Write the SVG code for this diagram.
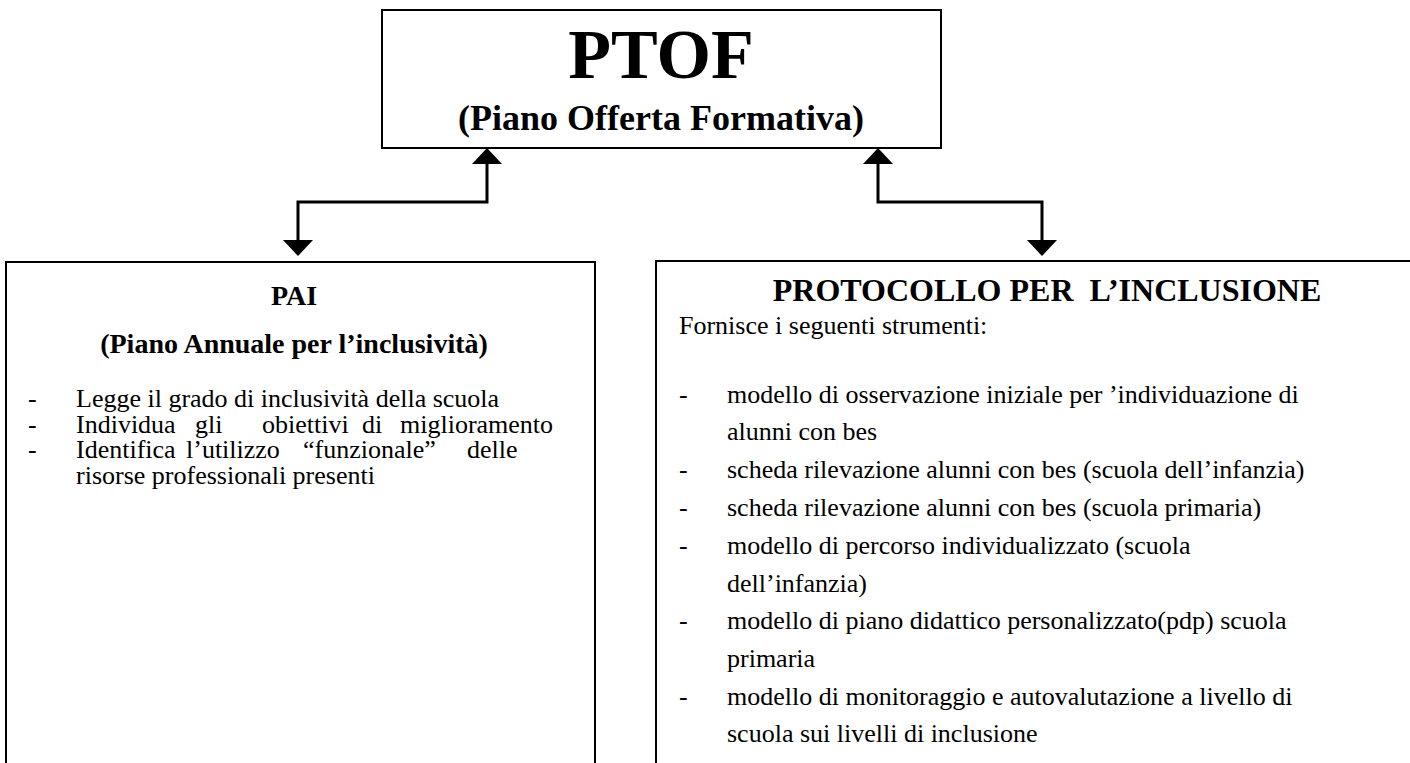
<svg xmlns="http://www.w3.org/2000/svg" width="1410" height="763" viewBox="0 0 1410 763">
<style>
.box{fill:#fff;stroke:#000;stroke-width:2}
.t{font-family:"Liberation Serif","Times New Roman",serif;fill:#000}
.b{font-weight:bold}
.body{font-size:26px}
.conn{fill:none;stroke:#000;stroke-width:3}
</style>
<defs>
<marker id="ah" markerUnits="userSpaceOnUse" markerWidth="16" markerHeight="30" viewBox="0 0 16 30" refX="0" refY="15" orient="auto-start-reverse">
<path d="M0,0 L16,15 L0,30 Z" fill="#000"/>
</marker>
</defs>
<rect width="1410" height="763" fill="#fff"/>
<g id="ptof">
<rect class="box" x="382" y="10" width="559" height="138"/>
<text class="t b" x="661" y="78" font-size="70" text-anchor="middle">PTOF</text>
<text class="t b" x="661" y="130" font-size="36" text-anchor="middle">(Piano Offerta Formativa)</text>
</g>
<g id="pai">
<rect class="box" x="6" y="262" width="589" height="520"/>
<text class="t b" x="294" y="305" font-size="28" text-anchor="middle">PAI</text>
<text class="t b" x="294" y="353" font-size="28" text-anchor="middle">(Piano Annuale per l’inclusività)</text>
<g class="t body">
<text x="28" y="407">-</text><text x="76" y="407">Legge il grado di inclusività della scuola</text>
<text x="28" y="433">-</text><text y="433"><tspan x="76">Individua</tspan><tspan x="195">gli</tspan><tspan x="262">obiettivi</tspan><tspan x="362">di</tspan><tspan x="400">miglioramento</tspan></text>
<text x="28" y="458">-</text><text y="458"><tspan x="76">Identifica</tspan><tspan x="186">l’utilizzo</tspan><tspan x="303">“funzionale”</tspan><tspan x="467">delle</tspan></text>
<text x="76" y="484">risorse professionali presenti</text>
</g>
</g>
<g id="protocollo">
<rect class="box" x="656" y="261" width="800" height="520"/>
<text class="t b" x="1047" y="301" font-size="32" text-anchor="middle" xml:space="preserve">PROTOCOLLO PER  L’INCLUSIONE</text>
<g class="t body">
<text x="679" y="334">Fornisce i seguenti strumenti:</text>
<text x="679" y="403">-</text><text x="727" y="403">modello di osservazione iniziale per ’individuazione di</text>
<text x="727" y="440">alunni con bes</text>
<text x="679" y="478">-</text><text x="727" y="478">scheda rilevazione alunni con bes (scuola dell’infanzia)</text>
<text x="679" y="516">-</text><text x="727" y="516">scheda rilevazione alunni con bes (scuola primaria)</text>
<text x="679" y="554">-</text><text x="727" y="554">modello di percorso individualizzato (scuola</text>
<text x="727" y="592">dell’infanzia)</text>
<text x="679" y="629">-</text><text x="727" y="629">modello di piano didattico personalizzato(pdp) scuola</text>
<text x="727" y="667">primaria</text>
<text x="679" y="705">-</text><text x="727" y="705">modello di monitoraggio e autovalutazione a livello di</text>
<text x="727" y="742">scuola sui livelli di inclusione</text>
</g>
</g>
<g id="connectors">
<path class="conn" d="M487,164 V202 H298 V240" marker-start="url(#ah)" marker-end="url(#ah)"/>
<path class="conn" d="M878,164 V202 H1042 V240" marker-start="url(#ah)" marker-end="url(#ah)"/>
</g>
</svg>
